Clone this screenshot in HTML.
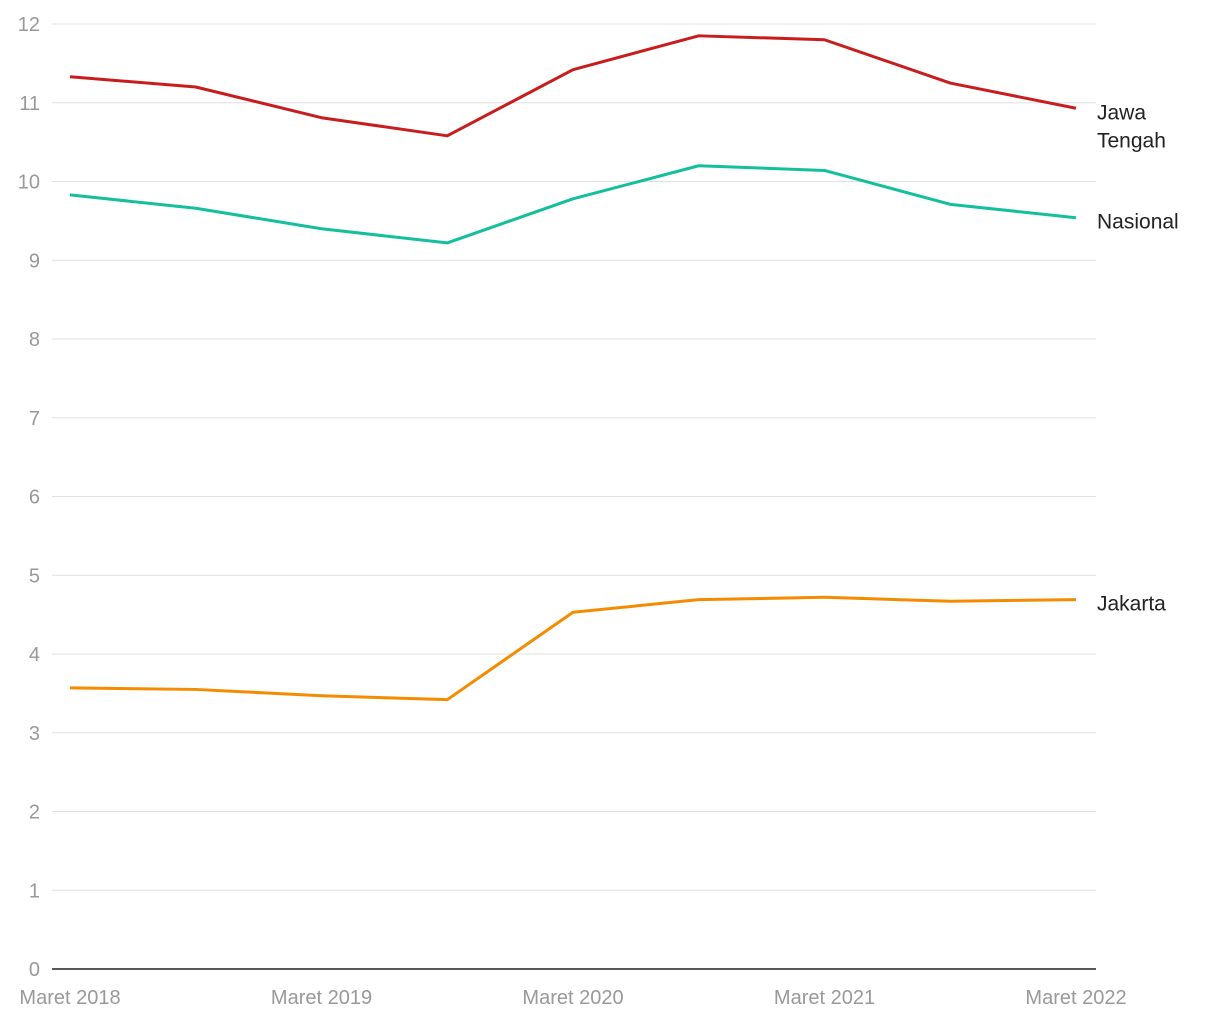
<!DOCTYPE html>
<html><head><meta charset="utf-8"><style>
html,body{margin:0;padding:0;background:#fff;}
svg{display:block;font-family:"Liberation Sans",sans-serif;}
</style></head><body>
<svg id="chart" width="1220" height="1020"></svg>
<script>
const categories=["Maret 2018","Sep 2018","Maret 2019","Sep 2019","Maret 2020","Sep 2020","Maret 2021","Sep 2021","Maret 2022"];
const tickLabels=["Maret 2018","Maret 2019","Maret 2020","Maret 2021","Maret 2022"];
const yTicks=[0,1,2,3,4,5,6,7,8,9,10,11,12];
const jawaTengah=[11.33,11.20,10.81,10.58,11.42,11.85,11.80,11.25,10.93];
const nasional=[9.83,9.66,9.40,9.22,9.78,10.20,10.14,9.71,9.54];
const jakarta=[3.57,3.55,3.47,3.42,4.53,4.69,4.72,4.67,4.69];
const svg=document.getElementById('chart');
const NS='http://www.w3.org/2000/svg';
const x0=70,x1=1076,y0=969,y1=24;
function xs(i){return x0+(x1-x0)*i/(categories.length-1);}
function ys(v){return y0-(y0-y1)*v/12;}
function mk(tag,attrs){const e=document.createElementNS(NS,tag);for(const k in attrs)e.setAttribute(k,attrs[k]);svg.appendChild(e);return e;}
yTicks.forEach(v=>{
  const l=mk('line',{x1:52,x2:1096,y1:ys(v),y2:ys(v),stroke:v===0?'#222':'#e0e0e0','stroke-width':v===0?1.5:1});
  
  
  const t=mk('text',{x:40,y:ys(v)+7,'text-anchor':'end','font-size':20,fill:'#999'});
  t.textContent=v;
  
  
});
tickLabels.forEach(lbl=>{
  const i=categories.indexOf(lbl);
  const t=mk('text',{x:xs(i),y:1004,'text-anchor':'middle','font-size':20,fill:'#999'});
  t.textContent=lbl;
  
  
});
function series(vals,color,name,labels,ly){
  const p=mk('polyline',{points:vals.map((v,i)=>xs(i)+','+ys(v)).join(' '),fill:'none',stroke:color,'stroke-width':3,'stroke-linejoin':'round'});
  
  
  labels.forEach((s,k)=>{
    const t=mk('text',{x:1097,y:ys(vals[vals.length-1])+ly+k*28,'font-size':21,fill:'#222'});
    t.textContent=s;
    
    
  });
}
series(jawaTengah,'#c91d1d','jawa-tengah',['Jawa','Tengah'],11);
series(nasional,'#13bf9c','nasional',['Nasional'],11);
series(jakarta,'#f58b00','jakarta',['Jakarta'],11);
</script>
</body></html>
